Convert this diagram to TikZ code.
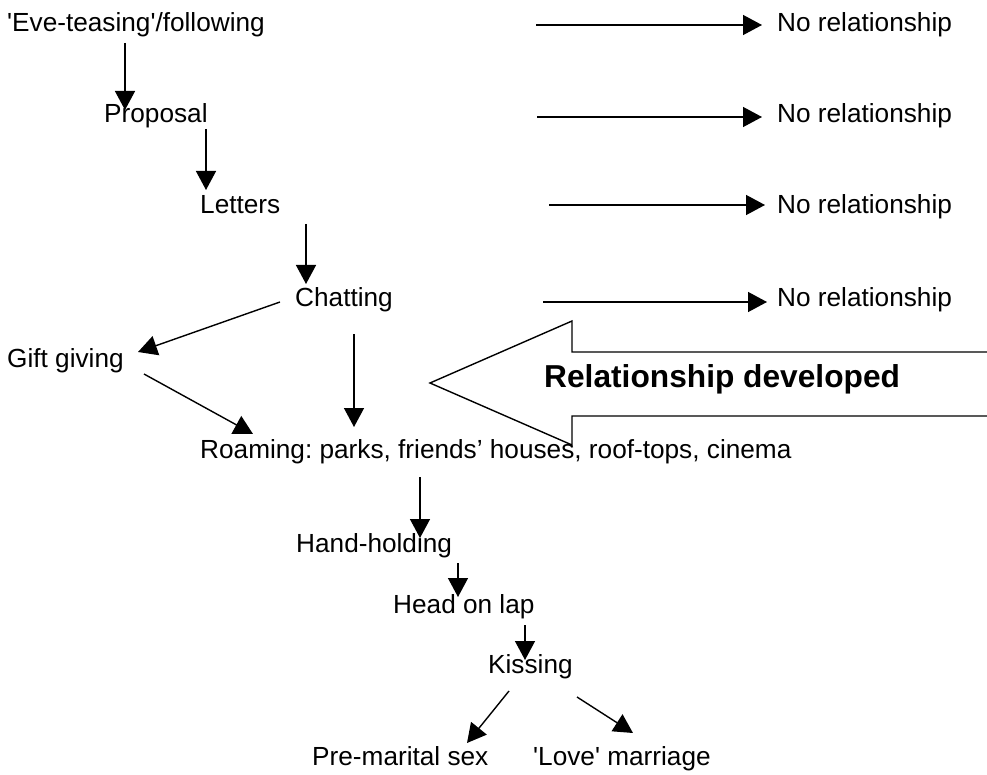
\documentclass[tikz,border=0pt]{standalone}
\usepackage{fontspec}
\newfontfamily\af{Liberation Sans}
\usetikzlibrary{arrows.meta,calc}
\tikzset{
  txt/.style={inner sep=0pt, anchor=base west, font=\af\frenchspacing\fontsize{26.2}{30}\selectfont},
  reltxt/.style={inner sep=0pt, anchor=base west, font=\af\bfseries\fontsize{31.7}{36}\selectfont},
  arr/.style={-{Triangle[length=19pt,width=20pt]}, line width=1.4pt},
  blk/.style={line width=1.4pt, line join=miter}
}
\begin{document}
\begin{tikzpicture}[x=1pt,y=-1pt]
\useasboundingbox (0,0) rectangle (987,775);
% text nodes (base west at baseline)
\node[txt] (eve)  at (7,32)   {'Eve-teasing'/following};
\node[txt] (prop) at (104,123) {Proposal};
\node[txt] (let)  at (200,214) {Letters};
\node[txt] (chat) at (295,307) {Chatting};
\node[txt] (gift) at (7,367)   {Gift giving};
\node[txt] (roam) at (200,458) {Roaming: parks, friends’ houses, roof-tops, cinema};
\node[txt] (hand) at (296,552) {Hand-holding};
\node[txt] (head) at (393,613) {Head on lap};
\node[txt] (kiss) at (488,673) {Kissing};
\node[txt] (pre)  at (312,765) {Pre-marital sex};
\node[txt] (love) at (533,765) {'Love' marriage};
\node[txt] (nr1) at (777,32)  {No relationship};
\node[txt] (nr2) at (777,123) {No relationship};
\node[txt] (nr3) at (777,214) {No relationship};
\node[txt] (nr4) at (777,307) {No relationship};
\node[reltxt] (rel) at (544,387) {Relationship developed};
% block arrow
\draw[blk] (995,352) -- (572,352) -- (572,321) -- (430,383) -- (572,445) -- (572,416) -- (995,416);
% free ends of the "no relationship" arrows
\coordinate (s1) at ($(nr1.base west)+(-241,-7)$);
\coordinate (s2) at ($(nr2.base west)+(-240,-6)$);
\coordinate (s3) at ($(nr3.base west)+(-228,-9)$);
\coordinate (s4) at ($(nr4.base west)+(-234,-5)$);
\draw[arr] (s1) -- ($(nr1.base west)+(-15,-7)$);
\draw[arr] (s2) -- ($(nr2.base west)+(-15,-6)$);
\draw[arr] (s3) -- ($(nr3.base west)+(-12,-9)$);
\draw[arr] (s4) -- ($(nr4.base west)+(-10,-5)$);
% flow arrows
\draw[arr] ($(eve.base west)+(118,11)$) -- ($(prop.base west)+(21,-13)$);
\draw[arr] ($(prop.base west)+(102,6)$) -- ($(let.base west)+(6,-24)$);
\draw[arr] ($(let.base west)+(106,10)$) -- ($(chat.base west)+(11,-23)$);
\draw[arr] ($(chat.base west)+(-15,-5)$) -- ($(gift.base west)+(131,-15)$);
\draw[arr] ($(gift.base west)+(137,7)$) -- ($(roam.base west)+(53,-24)$);
\draw[arr] ($(chat.base west)+(59,27)$) -- ($(roam.base west)+(154,-31)$);
\draw[arr] ($(roam.base west)+(220,19)$) -- ($(hand.base west)+(124,-14)$);
\draw[arr] ($(hand.base west)+(162,11)$) -- ($(head.base west)+(65,-16)$);
\draw[arr] ($(head.base west)+(132,12)$) -- ($(kiss.base west)+(37,-13)$);
\draw[arr] ($(kiss.base west)+(21,18)$) -- ($(pre.base west)+(155,-22)$);
\draw[arr] ($(kiss.base west)+(89,24)$) -- ($(love.base west)+(100,-32)$);
\end{tikzpicture}
\end{document}
